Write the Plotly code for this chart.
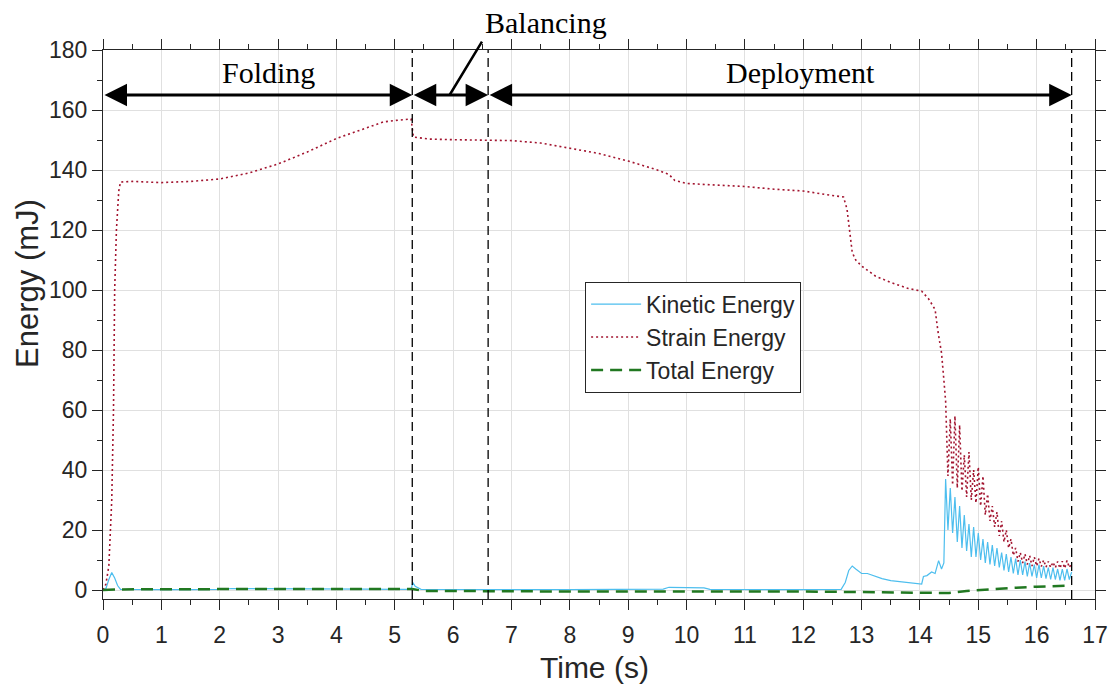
import plotly.graph_objects as go

# ---------------- data ----------------
t_strain_main = [0, 0.05, 0.1, 0.15, 0.18, 0.2, 0.23, 0.27, 0.3, 0.5, 1.0, 1.5, 2.0, 2.5,
                 3.0, 3.5, 4.0, 4.5, 4.8, 5.0, 5.28, 5.32, 5.4, 5.6, 6.0, 6.6, 7.0, 7.5,
                 8.0, 8.5, 9.0, 9.5, 9.7, 9.8, 10.0, 10.5, 11.0, 11.5, 12.0, 12.5, 12.69,
                 12.75, 12.8, 12.84, 12.9, 13.0, 13.24, 13.5, 13.8, 14.03, 14.15, 14.26,
                 14.31, 14.37, 14.41]
strain_main = [0, 2, 8, 30, 60, 100, 120, 133, 136, 136.2, 135.8, 136.2, 137, 139,
               142, 146, 150.5, 154, 156, 156.5, 157, 151, 150.8, 150.3, 150.1, 150, 149.8, 149,
               147.3, 145.5, 143, 140, 138.5, 136.5, 135.5, 135, 134.5, 133.6, 133, 131.5, 131,
               127, 118, 112.5, 110, 108, 104.6, 102.5, 100.5, 99.6, 97, 93.5,
               86, 79, 70]

t_kin_main = [0, 0.05, 0.1, 0.15, 0.2, 0.25, 0.3, 0.5, 1.0, 1.5, 2.0, 2.2, 3.0, 4.0, 4.5,
              5.0, 5.28, 5.31, 5.35, 5.45, 6.0, 7.0, 8.0, 9.0, 9.6, 9.7, 10.0, 10.3, 10.4,
              11.0, 12.0, 12.65, 12.72, 12.78, 12.84, 12.9, 13.0, 13.1, 13.2, 13.35, 13.5,
              13.65, 13.8, 13.95, 14.03, 14.06, 14.12, 14.2, 14.26, 14.32, 14.37, 14.41]
kin_main = [0, 0.5, 3.5, 5.8, 4, 1.5, 0.2, 0.1, 0.1, 0.1, 0.2, 0.5, 0.5, 0.5, 0.3,
            0.2, 0.2, 2.5, 1.2, 0.2, 0.1, 0.1, 0.1, 0.2, 0.3, 0.9, 0.8, 0.7, 0.2,
            0.1, 0.1, 0.2, 2.5, 6.5, 8, 7, 5.5, 5.5, 4.8, 3.8, 3.1,
            2.8, 2.6, 2.2, 2.0, 4.5, 4.8, 6, 5.5, 9.8, 7, 9]

# oscillating part at the end of deployment
t_osc = [14.44, 14.48, 14.52, 14.56, 14.60, 14.64, 14.68, 14.72, 14.76, 14.80, 14.84,
         14.88, 14.92, 14.96, 15.00, 15.04, 15.08, 15.12, 15.16, 15.20, 15.24, 15.28,
         15.32, 15.36, 15.40, 15.44, 15.48, 15.52, 15.56, 15.60, 15.64, 15.68, 15.72,
         15.76, 15.80, 15.84, 15.88, 15.92, 15.96, 16.00, 16.04, 16.08, 16.12, 16.16,
         16.20, 16.24, 16.28, 16.32, 16.36, 16.40, 16.44, 16.48, 16.52, 16.56, 16.60]
kin_osc = [37, 20, 34, 19, 31, 16, 28, 14, 25, 13, 22,
           11, 21, 11, 19, 10, 17, 9, 16, 8.5, 15, 8,
           14, 7.5, 12.5, 6.5, 12, 6, 11, 5.5, 10.5, 5, 10,
           5, 9.5, 4.5, 9, 4.5, 8.5, 4, 8.5, 4, 8, 3.8,
           7.5, 3.5, 7.5, 3.5, 7, 3.2, 7, 3.2, 7, 3.5, 6]
strain_osc = [63, 38, 57, 35, 58, 34, 55, 33, 45, 31, 46,
              30, 40, 29, 41, 28, 38, 25, 32, 23, 28, 21,
              26, 18, 23, 16, 20, 14, 17, 11.5, 14, 9.5, 12.5,
              9, 12, 8.5, 11.5, 8, 11, 8, 10.5, 7.8, 10, 7.6,
              9.5, 7.5, 9.3, 7.4, 9.5, 7.2, 9.6, 7.2, 9.8, 7.5, 9]

t_total = [0, 0.3, 2.0, 5.3, 5.5, 8.0, 12.0, 13.0, 14.0, 14.5, 14.8, 15.2, 15.6, 16.0, 16.3, 16.6]
total = [0, 0.2, 0.3, 0.3, -0.3, -0.5, -0.5, -0.8, -1.0, -1.0, -0.3, 0.3, 0.7, 1.1, 1.3, 1.5]

phase_bounds = [0, 5.3, 6.6, 16.6]
phase_labels = ["Folding", "Balancing", "Deployment"]
arrow_level = 165
x_ticks = list(range(0, 18))
y_ticks = list(range(0, 181, 20))

# ---------------- figure ----------------
fig = go.Figure()
fig.add_trace(go.Scatter(x=t_kin_main + t_osc, y=kin_main + kin_osc, mode="lines",
                         name="Kinetic Energy", line=dict(color="#4DBEEE", width=1.2)))
fig.add_trace(go.Scatter(x=t_strain_main + t_osc, y=strain_main + strain_osc, mode="lines",
                         name="Strain Energy",
                         line=dict(color="#A2142F", width=1.6, dash="2px,3px")))
fig.add_trace(go.Scatter(x=t_total, y=total, mode="lines", name="Total Energy",
                         line=dict(color="#217821", width=2.5, dash="12px,7px")))

# dashed phase boundaries
for xb in phase_bounds[1:]:
    fig.add_shape(type="line", xref="x", yref="y", x0=xb, x1=xb, y0=-3, y1=180,
                  line=dict(color="black", width=1.3, dash="9px,5px"), layer="above")

# double-headed phase arrows
for a, b in zip(phase_bounds[:-1], phase_bounds[1:]):
    fig.add_annotation(x=b, y=arrow_level, ax=a, ay=arrow_level, xref="x", yref="y",
                       axref="x", ayref="y", text="", showarrow=True, arrowhead=2,
                       arrowside="end+start", arrowwidth=3, arrowsize=1.5,
                       arrowcolor="black", standoff=0, startstandoff=0)

serif = dict(family="Liberation Serif, Times New Roman, serif", size=30, color="black")
fig.add_annotation(x=2.83, y=172.5, xref="x", yref="y", text=phase_labels[0],
                   showarrow=False, font=serif)
fig.add_annotation(x=11.96, y=172.5, xref="x", yref="y", text=phase_labels[2],
                   showarrow=False, font=serif)
fig.add_annotation(x=7.59, y=1.051, xref="x", yref="paper", text=phase_labels[1],
                   xanchor="center", yanchor="middle", showarrow=False, font=serif)
# leader line for "Balancing"
fig.add_annotation(x=5.94, y=arrow_level, ax=6.51, ay=183.3, xref="x", yref="y",
                   axref="x", ayref="y", text="", showarrow=True, arrowhead=0,
                   arrowwidth=2.5, arrowcolor="black", standoff=0, startstandoff=0)

sans = "Liberation Sans, Arial, sans-serif"
# axis titles
fig.add_annotation(x=-0.076, y=0.575, xref="paper", yref="paper", text="Energy (mJ)",
                   textangle=-90, showarrow=False, xanchor="center", yanchor="middle",
                   font=dict(family=sans, size=31, color="#262626"))
fig.add_annotation(x=0.495, y=-0.124, xref="paper", yref="paper", text="Time (s)",
                   showarrow=False, xanchor="center", yanchor="middle",
                   font=dict(family=sans, size=30, color="#262626"))

axis_common = dict(showline=True, linecolor="#262626", linewidth=1, mirror="allticks",
                   ticks="outside", ticklen=10, tickwidth=1, tickcolor="#262626",
                   showgrid=True, gridcolor="#E0E0E0", gridwidth=1, zeroline=False,
                   tickfont=dict(family=sans, size=23, color="#262626"))
fig.update_xaxes(range=[0, 17], tickmode="array", tickvals=x_ticks,
                 minor=dict(dtick=0.5, ticklen=5, ticks="outside", tickcolor="#262626",
                            showgrid=False),
                 ticklabelstandoff=5, **axis_common)
fig.update_yaxes(range=[-3, 180], tickmode="array", tickvals=y_ticks,
                 minor=dict(dtick=10, ticklen=5, ticks="outside", tickcolor="#262626",
                            showgrid=False),
                 **axis_common)

fig.update_layout(
    width=1120, height=688,
    margin=dict(l=103, r=19, t=50, b=89),
    paper_bgcolor="white", plot_bgcolor="white",
    showlegend=True,
    legend=dict(x=0.486, y=0.578, xanchor="left", yanchor="top",
                bgcolor="white", bordercolor="#262626", borderwidth=1,
                font=dict(family=sans, size=23, color="#262626"),
                itemwidth=50, tracegroupgap=0),
)

fig.write_html("out.html")
